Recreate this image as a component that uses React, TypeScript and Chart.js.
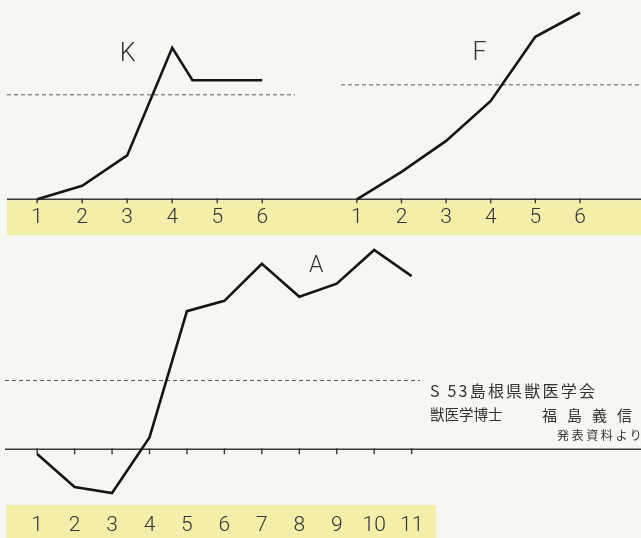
import React, { useEffect, useRef } from "react";
import { Chart, registerables } from "chart.js";
Chart.register(...registerables);

// ---- data (days on x, response relative to reference level = 100) ----
const kDays = [1, 2, 3, 4, 4.45, 6];
const kValues = [0, 13, 42, 145, 114, 114];
const fDays = [1, 2, 3, 4, 5, 6];
const fValues = [0, 24, 51, 86, 142, 163];
const aDays = [1, 2, 3, 4, 5, 6, 7, 8, 9, 10, 11];
const aValues = [-7, -55, -64, 17, 201, 216, 270, 222, 241, 290, 252];
const topTickLabels = ["1", "2", "3", "4", "5", "6"];
const bottomTickLabels = ["1", "2", "3", "4", "5", "6", "7", "8", "9", "10", "11"];
const seriesNames = ["K", "F", "A"];
const referenceLevel = 100;

// ---- layout / style (not data) ----
const W = 641;
const H = 538;
const BG = "#f6f6f3";
const YELLOW = "#f3eeaa";
const LINE = "#161616";
const NUM_FONT = "'Roboto Light', 'Liberation Sans', Arial, sans-serif";
const labelPos = {
  K: { x: 3.01, y: 139 },
  F: { x: 3.75, y: 128 },
  A: { x: 8.45, y: 268 },
};

const decorPlugin = {
  id: "decor",
  beforeDatasetsDraw(chart: any) {
    const { ctx, scales } = chart;
    const xK = scales.xK, xF = scales.xF, xA = scales.xA;
    const yK = scales.yK, yF = scales.yF, yA = scales.yA;
    const topBase = yK.getPixelForValue(0);
    const botBase = yA.getPixelForValue(0);
    ctx.save();
    // yellow bands
    ctx.fillStyle = YELLOW;
    ctx.fillRect(7, topBase + 1, W - 7, 35);
    ctx.fillRect(6, 505, 430, H - 505);
    // baselines
    ctx.strokeStyle = "#3a3a38";
    ctx.lineWidth = 1.5;
    ctx.beginPath();
    ctx.moveTo(7, topBase);
    ctx.lineTo(W, topBase);
    ctx.moveTo(5, botBase);
    ctx.lineTo(W, botBase);
    ctx.stroke();
    // ticks
    ctx.lineWidth = 1.4;
    ctx.beginPath();
    topTickLabels.forEach((_, i) => {
      [xK, xF].forEach((s) => {
        const px = s.getPixelForValue(i + 1);
        ctx.moveTo(px, topBase - 1);
        ctx.lineTo(px, topBase + 4);
      });
    });
    bottomTickLabels.forEach((_, i) => {
      const px = xA.getPixelForValue(i + 1);
      ctx.moveTo(px, botBase - 1);
      ctx.lineTo(px, botBase + 5);
    });
    ctx.stroke();
    // dashed reference lines
    ctx.strokeStyle = "#5a5a58";
    ctx.lineWidth = 1;
    ctx.setLineDash([4, 3]);
    ctx.beginPath();
    const yk = yK.getPixelForValue(referenceLevel);
    ctx.moveTo(7, yk);
    ctx.lineTo(295, yk);
    const yf = yF.getPixelForValue(referenceLevel);
    ctx.moveTo(341, yf);
    ctx.lineTo(W, yf);
    const ya = yA.getPixelForValue(referenceLevel);
    ctx.moveTo(5, ya);
    ctx.lineTo(420, ya);
    ctx.stroke();
    ctx.setLineDash([]);
    // tick labels
    ctx.fillStyle = "#333331";
    ctx.font = `21px ${NUM_FONT}`;
    ctx.textAlign = "center";
    ctx.textBaseline = "middle";
    topTickLabels.forEach((t, i) => {
      ctx.fillText(t, xK.getPixelForValue(i + 1), 217);
      ctx.fillText(t, xF.getPixelForValue(i + 1), 217);
    });
    bottomTickLabels.forEach((t, i) => {
      ctx.fillText(t, xA.getPixelForValue(i + 1), 525);
    });
    // panel labels
    ctx.font = `25px ${NUM_FONT}`;
    ctx.fillText(seriesNames[0], xK.getPixelForValue(labelPos.K.x), yK.getPixelForValue(labelPos.K.y));
    ctx.fillText(seriesNames[1], xF.getPixelForValue(labelPos.F.x), yF.getPixelForValue(labelPos.F.y));
    ctx.font = `23px ${NUM_FONT}`;
    ctx.fillText(seriesNames[2], xA.getPixelForValue(labelPos.A.x), yA.getPixelForValue(labelPos.A.y));
    ctx.restore();
  },
};

export default function App() {
  const ref = useRef<HTMLCanvasElement | null>(null);
  useEffect(() => {
    document.body.style.margin = "0";
    document.body.style.background = BG;
    const hidden = { display: false };
    const chart = new Chart(ref.current as HTMLCanvasElement, {
      type: "line",
      data: {
        datasets: [
          {
            label: seriesNames[0],
            data: kDays.map((d, i) => ({ x: d, y: kValues[i] })),
            xAxisID: "xK",
            yAxisID: "yK",
          },
          {
            label: seriesNames[1],
            data: fDays.map((d, i) => ({ x: d, y: fValues[i] })),
            xAxisID: "xF",
            yAxisID: "yF",
          },
          {
            label: seriesNames[2],
            data: aDays.map((d, i) => ({ x: d, y: aValues[i] })),
            xAxisID: "xA",
            yAxisID: "yA",
          },
        ].map((ds) => ({
          ...ds,
          borderColor: LINE,
          borderWidth: 2.6,
          pointRadius: 0,
          tension: 0,
          fill: false,
          borderJoinStyle: "miter" as const,
        })),
      },
      options: {
        responsive: false,
        animation: false,
        layout: { padding: 0 },
        plugins: { legend: hidden, tooltip: { enabled: false } },
        scales: {
          xK: { type: "linear", min: 0.2035, max: 14.385, ...hidden },
          xF: { type: "linear", min: -6.969, max: 7.339, ...hidden },
          xA: { type: "linear", min: 0.0426, max: 17.09, ...hidden },
          yK: { type: "linear", min: -322.9, max: 189.5, ...hidden },
          yF: { type: "linear", min: -294.8, max: 173.0, ...hidden },
          yA: { type: "linear", min: -127.5, max: 652.2, ...hidden },
        },
      },
      plugins: [decorPlugin],
    });
    if ((document as any).fonts && (document as any).fonts.ready) {
      (document as any).fonts.ready.then(() => {
        try { chart.update("none"); } catch (e) { /* destroyed */ }
      });
    }
    return () => chart.destroy();
  }, []);

  const jp = "'Noto Sans CJK JP', 'Noto Sans CJK SC', sans-serif";
  const base: React.CSSProperties = {
    position: "absolute",
    whiteSpace: "nowrap",
    lineHeight: 1,
    fontFamily: jp,
    fontWeight: 400,
    color: "#333331",
  };
  return (
    <div
      style={{
        position: "fixed",
        left: 0,
        top: 0,
        width: W,
        height: H,
        overflow: "hidden",
        background: BG,
      }}
    >
      <canvas ref={ref} width={W} height={H} style={{ position: "absolute", left: 0, top: 0 }} />
      <div style={{ ...base, left: 430, top: 382, fontSize: 16, letterSpacing: 2.2 }}>S 53島根県獣医学会</div>
      <div style={{ ...base, left: 430, top: 407, fontSize: 14.5 }}>獣医学博士</div>
      <div style={{ ...base, left: 542, top: 407, fontSize: 15, letterSpacing: 10 }}>福島義信</div>
      <div style={{ ...base, left: 557, top: 429, fontSize: 12, letterSpacing: 2.6 }}>発表資料より</div>
    </div>
  );
}
